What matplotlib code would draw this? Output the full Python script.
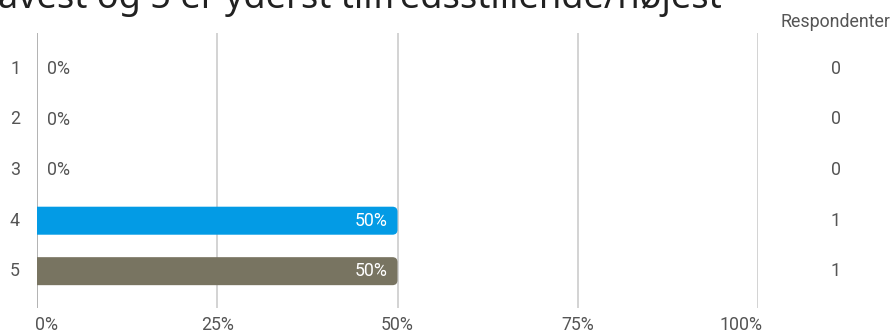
import matplotlib
matplotlib.use("Agg")
import matplotlib.pyplot as plt
from matplotlib.patches import FancyBboxPatch

categories = ["1", "2", "3", "4", "5"]
percents = [0, 0, 0, 50, 50]
counts = [0, 0, 0, 1, 1]
bar_colors = ["#039BE5", "#039BE5", "#039BE5", "#039BE5", "#787461"]
xticks = [0, 25, 50, 75, 100]
xticklabels = ["0%", "25%", "50%", "75%", "100%"]
title = "avest og 5 er yderst tilfredsstillende/højest"
count_header = "Respondenter"

W, H = 893, 334
fig = plt.figure(figsize=(W / 100, H / 100), dpi=100)
ax = fig.add_axes([37 / W, 26 / H, (758 - 37) / W, (308 - 33) / H])
ax.set_xlim(0, 100)
ax.set_ylim(4.73, -0.72)
for s in ax.spines.values():
    s.set_visible(False)
ax.set_xticks([])
ax.set_yticks([])

tc = "#555555"
font = "Roboto"
fs = 12.8

for xv in xticks:
    ax.axvline(xv, color="#9e9e9e" if xv == 0 else "#c8c8c8", lw=1.1, zorder=1)

bar_h = 0.555
px_x = 721 / 100
px_y = 50.5
r = 5 / px_x
aspect = (5 / px_y) / r
for i, (p, c) in enumerate(zip(percents, bar_colors)):
    if p > 0:
        patch = FancyBboxPatch((-5, i - bar_h / 2), p + 5, bar_h,
                               boxstyle=f"round,pad=0,rounding_size={r}",
                               mutation_aspect=aspect, fc=c, ec="none", zorder=2)
        ax.add_patch(patch)
        ax.text(p - 10 / px_x, i, f"{p}%", ha="right", va="center",
                color="white", fontsize=fs, family=font, zorder=3)
    else:
        ax.text(10 / px_x, i, f"{p}%", ha="left", va="center",
                color=tc, fontsize=fs, family=font, zorder=3)

for i, cat in enumerate(categories):
    fig.text(15 / W, 1 - (69 + i * 50.5) / H, cat, ha="center", va="center",
             color=tc, fontsize=fs, family=font)
    fig.text(836 / W, 1 - (69 + i * 50.5) / H, str(counts[i]), ha="center",
             va="center", color=tc, fontsize=fs, family=font)

offsets = [9, 0, 0, 0, -17]
for xv, lab, off in zip(xticks, xticklabels, offsets):
    xpix = 37 + xv * px_x + off
    fig.text(xpix / W, 1 - 325 / H, lab, ha="center", va="center",
             color=tc, fontsize=fs, family=font)

fig.text(890 / W, 1 - 22 / H, count_header, ha="right", va="center",
         color=tc, fontsize=fs, family=font)

fig.text(-2 / W, 1 - 8 / H, title, ha="left", va="baseline",
         color="#212121", fontsize=26, family="Noto Sans")

fig.savefig("out.png", dpi=100)
